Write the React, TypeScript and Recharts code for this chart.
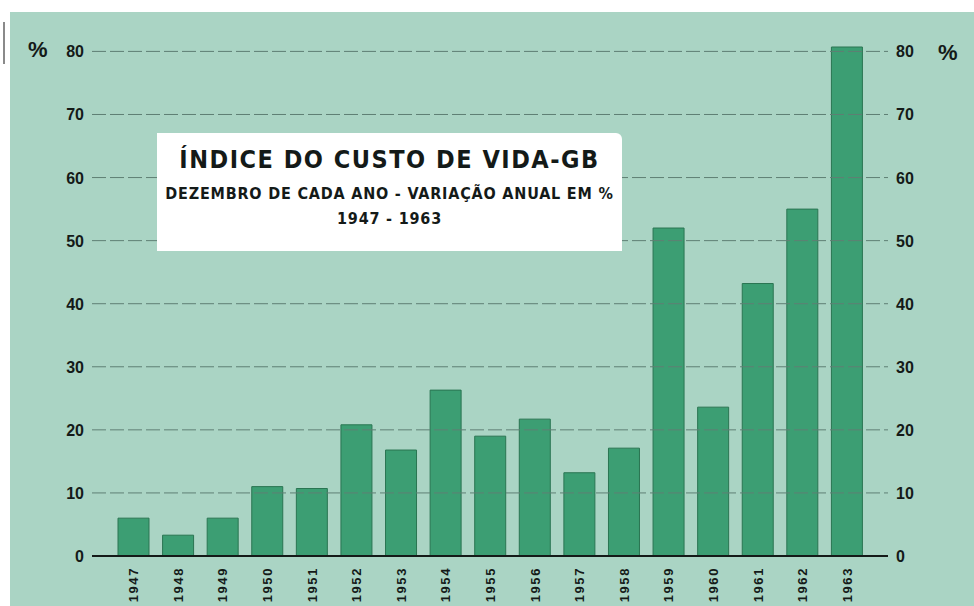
import React from 'react';
import { BarChart, Bar, XAxis, YAxis, ReferenceLine } from 'recharts';

const years = ['1947', '1948', '1949', '1950', '1951', '1952', '1953', '1954', '1955', '1956', '1957', '1958', '1959', '1960', '1961', '1962', '1963'];
const variation = [6.0, 3.3, 6.0, 11.0, 10.7, 20.8, 16.8, 26.3, 19.0, 21.7, 13.2, 17.1, 52.0, 23.6, 43.2, 55.0, 80.7];
const yTicks = [0, 10, 20, 30, 40, 50, 60, 70, 80];

const data = years.map((year, i) => ({ year, value: variation[i] }));

const PANEL = '#aad4c4';
const BAR = '#3c9e73';
const INK = '#141a18';
const tickFont = '"Liberation Sans", Arial, sans-serif';

// the scale is printed on both sides, so one tick draws both labels
function BothSidesTick({ y, payload }: any) {
  return (
    <g fontFamily={tickFont} fontWeight="bold" fontSize={16} fill={INK}>
      <text x={84} y={y} dy={6} textAnchor="end">{payload.value}</text>
      <text x={896} y={y} dy={6} textAnchor="start">{payload.value}</text>
    </g>
  );
}

// years written upward under each bar
function YearTick({ x, payload }: any) {
  return (
    <text
      transform={`translate(${x + 5}, 567) rotate(-90)`}
      textAnchor="end"
      fontFamily={tickFont}
      fontWeight="bold"
      fontSize={13}
      letterSpacing={1.6}
      fill={INK}
    >
      {payload.value}
    </text>
  );
}

export default function App() {
  const titleFont = '"DejaVu Sans", sans-serif';
  return (
    <div style={{ position: 'absolute', left: 0, top: 0, width: 974, height: 606, background: '#ffffff', overflow: 'hidden' }}>
      <div style={{ position: 'absolute', left: 10, top: 12, width: 964, height: 594, background: PANEL }} />
      <div style={{ position: 'absolute', left: 3, top: 22, width: 2, height: 42, background: '#8a8a8a' }} />
      <div style={{ position: 'absolute', left: 0, top: 0 }}>
        <BarChart width={974} height={606} data={data} margin={{ top: 47, right: 86, bottom: 0, left: 0 }}>
          <XAxis
            dataKey="year"
            height={50}
            padding={{ left: 19, right: 19 }}
            axisLine={{ stroke: INK, strokeWidth: 2 }}
            tickLine={false}
            tick={<YearTick />}
            interval={0}
          />
          <YAxis yAxisId="left" orientation="left" width={92} domain={[0, 80]} ticks={yTicks} axisLine={false} tickLine={false} tick={<BothSidesTick />} />
          {yTicks.filter((t) => t > 0).map((t) => (
            <ReferenceLine key={t} yAxisId="left" y={t} stroke="#5f7f74" strokeWidth={1} strokeDasharray="14 4" />
          ))}
          <Bar yAxisId="left" dataKey="value" fill={BAR} stroke="#2a7552" strokeWidth={1} barSize={31} isAnimationActive={false} />
        </BarChart>
      </div>
      <div style={{ position: 'absolute', left: 28, top: 37, fontFamily: tickFont, fontWeight: 'bold', fontSize: 22, color: INK }}>%</div>
      <div style={{ position: 'absolute', left: 938, top: 40, fontFamily: tickFont, fontWeight: 'bold', fontSize: 22, color: INK }}>%</div>
      <div
        style={{
          position: 'absolute',
          left: 157,
          top: 133,
          width: 465,
          height: 118,
          background: '#ffffff',
          borderRadius: '0 6px 0 0',
          textAlign: 'center',
          color: INK,
          whiteSpace: 'nowrap',
          fontFamily: titleFont,
          fontStretch: 'condensed',
          lineHeight: 1.15,
        }}
      >
        <div style={{ marginTop: 13, fontSize: 25, fontWeight: 'bold', letterSpacing: 1.5 }}>ÍNDICE DO CUSTO DE VIDA-GB</div>
        <div style={{ marginTop: 10, fontSize: 16, fontWeight: 'bold', letterSpacing: 0.8 }}>DEZEMBRO DE CADA ANO - VARIAÇÃO ANUAL EM %</div>
        <div style={{ marginTop: 7, fontSize: 16, fontWeight: 'bold', letterSpacing: 0.8 }}>1947 - 1963</div>
      </div>
    </div>
  );
}
